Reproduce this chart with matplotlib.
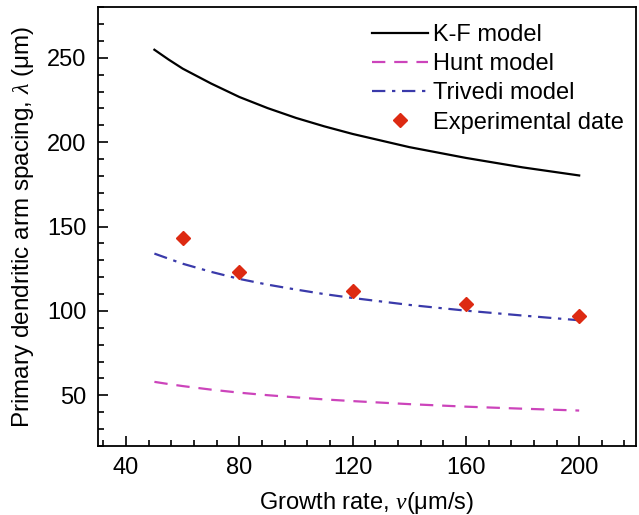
import numpy as np
import matplotlib.pyplot as plt
from matplotlib.ticker import MultipleLocator

plt.rcParams["font.family"] = ["Liberation Sans", "DejaVu Sans"]
plt.rcParams["mathtext.fontset"] = "custom"
plt.rcParams["mathtext.it"] = "Liberation Serif:italic"

# growth rate (um/s) for model curves
v_model = [50, 55, 60, 70, 80, 90, 100, 110, 120, 140, 160, 180, 200]
kf_model = [254.8, 249.0, 243.6, 234.8, 226.8, 220.2, 214.4, 209.4, 204.9,
            197.1, 190.7, 185.1, 180.3]
hunt_model = [58.0, 56.7, 55.5, 53.4, 51.6, 50.1, 48.8, 47.6, 46.6,
              44.8, 43.3, 42.1, 41.0]
trivedi_model = [134.0, 131.0, 128.0, 123.2, 119.0, 115.6, 112.7, 110.0, 107.7,
                 103.6, 100.2, 97.3, 94.5]

# experimental points
v_exp = [60, 80, 120, 160, 200]
lam_exp = [143.5, 123.2, 112.0, 104.0, 96.8]

fig, ax = plt.subplots(figsize=(6.39, 5.15), dpi=100)
fig.subplots_adjust(left=0.153, right=0.995, top=0.986, bottom=0.134)

ax.plot(v_model, kf_model, color="black", linewidth=1.6, label="K-F model")
ax.plot(v_model, hunt_model, color="#cc44bb", linewidth=1.6,
        linestyle=(0, (6, 4)), label="Hunt model")
ax.plot(v_model, trivedi_model, color="#3a3aaa", linewidth=1.6,
        linestyle=(0, (6, 3, 1.5, 3)), label="Trivedi model")
ax.plot(v_exp, lam_exp, linestyle="none", marker="D", markersize=7.5,
        color="#dd2a12", label="Experimental date")

ax.set_xlim(30, 220)
ax.set_ylim(20, 280)
ax.xaxis.set_major_locator(MultipleLocator(40))
ax.xaxis.set_minor_locator(MultipleLocator(8))
ax.yaxis.set_minor_locator(MultipleLocator(10))
ax.set_yticks([50, 100, 150, 200, 250])

ax.tick_params(which="both", direction="in", top=False, right=False,
               labelsize=17, width=1.2)
ax.tick_params(which="major", length=7, pad=8)
ax.tick_params(which="minor", length=4)
for s in ax.spines.values():
    s.set_linewidth(1.3)

ax.set_xlabel("Growth rate, $\\nu$(μm/s)", fontsize=17, labelpad=8)
ax.set_ylabel("Primary dendritic arm spacing, $\\lambda$ (μm)",
              fontsize=17.5, labelpad=8)

ax.legend(loc="upper right", bbox_to_anchor=(1.0, 0.988), frameon=False,
          fontsize=17, handlelength=2.4, handletextpad=0.2,
          labelspacing=0.3, borderaxespad=0.1)

fig.savefig("out.png", dpi=100)
